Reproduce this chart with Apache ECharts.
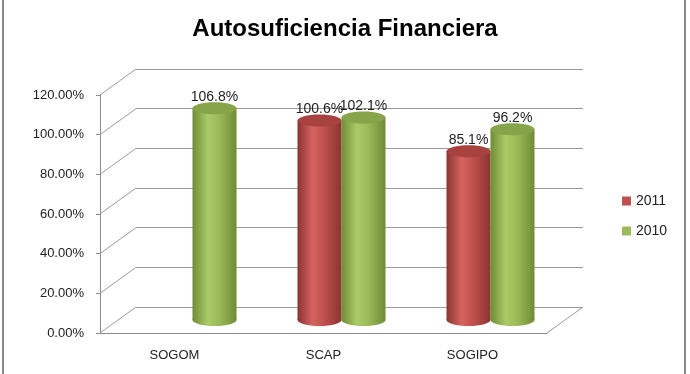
<!DOCTYPE html>
<html lang="es">
<head>
    <meta charset="utf-8"/>
    <title>Autosuficiencia Financiera</title>
    <script src="https://cdn.jsdelivr.net/npm/echarts@6/dist/echarts.min.js"></script>
    <style>
        html, body { margin: 0; padding: 0; background: #fff; }
        #main { width: 690px; height: 374px; }
    </style>
</head>
<body>
<div id="main"></div>
<script>
    // datos
    var categorias = ['SOGOM', 'SCAP', 'SOGIPO'];
    var anios = ['2011', '2010'];
    var valores2011 = [null, 100.6, 85.1];
    var valores2010 = [106.8, 102.1, 96.2];
    var ticksY = [0, 20, 40, 60, 80, 100, 120];

    // "3D": pared trasera desplazada respecto del eje frontal
    var front = {left: 100, top: 95, width: 447, height: 238};
    var depthX = 36, depthY = -26;
    var anchoBarra = 44;

    var colores = {
        '2011': {base: '#C0504D', dark: '#8a3431', light: '#d66461', top: '#a8423f'},
        '2010': {base: '#9BBB59', dark: '#6f8c35', light: '#aacb68', top: '#86a449'}
    };

    function cilindro(anio, idx) {
        var c = colores[anio];
        return function (params, api) {
            var v = api.value(1);
            if (v == null || isNaN(v)) return;
            var base = api.coord([api.value(0), 0]);
            var tope = api.coord([api.value(0), v]);
            var cx = base[0] + (idx === 0 ? -anchoBarra / 2 : anchoBarra / 2);
            var x = cx - anchoBarra / 2;
            var ry = 6;
            var grad = new echarts.graphic.LinearGradient(0, 0, 1, 0, [
                {offset: 0, color: c.dark},
                {offset: 0.35, color: c.light},
                {offset: 0.6, color: c.base},
                {offset: 1, color: c.dark}
            ]);
            return {
                type: 'group',
                children: [
                    {type: 'ellipse', shape: {cx: cx, cy: base[1], rx: anchoBarra / 2, ry: ry}, style: {fill: grad}},
                    {type: 'rect', shape: {x: x, y: tope[1], width: anchoBarra, height: base[1] - tope[1]}, style: {fill: grad}},
                    {type: 'ellipse', shape: {cx: cx, cy: tope[1], rx: anchoBarra / 2, ry: ry}, style: {fill: c.top}},
                    {
                        type: 'text',
                        style: {
                            x: cx, y: tope[1] - 11,
                            text: v.toFixed(1) + '%',
                            align: 'center', verticalAlign: 'middle',
                            fill: '#222', font: '14px "Liberation Sans", sans-serif'
                        }
                    }
                ]
            };
        };
    }

    function pares(arr) {
        return arr.map(function (v, i) { return [i, v]; });
    }

    var chart = echarts.init(document.getElementById('main'));
    var option = {
        animation: false,
        title: {
            text: 'Autosuficiencia Financiera',
            left: 'center',
            top: 12,
            textStyle: {fontFamily: 'Liberation Sans', fontWeight: 'bold', fontSize: 24, color: '#000'}
        },
        legend: {
            data: anios,
            orient: 'vertical',
            left: 617,
            top: 189,
            icon: 'rect',
            itemWidth: 9,
            itemHeight: 9,
            itemGap: 16,
            textStyle: {fontFamily: 'Liberation Sans', fontSize: 14, color: '#222'}
        },
        graphic: [{
            type: 'rect',
            shape: {x: 3, y: -5, width: 682, height: 390},
            style: {fill: 'none', stroke: '#888', lineWidth: 2},
            silent: true
        }],
        grid: [
            // eje frontal
            {left: front.left, top: front.top, width: front.width, height: front.height},
            // pared trasera
            {left: front.left + depthX, top: front.top + depthY, width: front.width, height: front.height},
            // plano medio donde estan los cilindros
            {left: front.left + depthX / 2, top: front.top + depthY / 2, width: front.width, height: front.height}
        ],
        xAxis: [
            {
                gridIndex: 0, type: 'category', data: categorias,
                axisLine: {lineStyle: {color: '#8c8c8c'}},
                axisTick: {show: false},
                axisLabel: {margin: 16, fontFamily: 'Liberation Sans', fontSize: 13, color: '#222'}
            },
            {gridIndex: 1, type: 'category', data: categorias, show: false},
            {gridIndex: 2, type: 'category', data: categorias, show: false}
        ],
        yAxis: [
            {
                gridIndex: 0, type: 'value', min: 0, max: 120, interval: 20,
                axisLine: {show: true, lineStyle: {color: '#8c8c8c'}},
                axisTick: {show: true, length: 4, lineStyle: {color: '#8c8c8c'}},
                splitLine: {show: false},
                axisLabel: {
                    margin: 16,
                    fontFamily: 'Liberation Sans', fontSize: 13, color: '#222',
                    formatter: function (v) { return v.toFixed(2) + '%'; }
                }
            },
            {
                gridIndex: 1, type: 'value', min: 0, max: 120, interval: 20,
                axisLine: {show: false}, axisTick: {show: false}, axisLabel: {show: false},
                splitLine: {show: true, lineStyle: {color: '#9a9a9a', width: 1}}
            },
            {gridIndex: 2, type: 'value', min: 0, max: 120, interval: 20, show: false, splitLine: {show: false}}
        ],
        series: [
            {
                // diagonales de profundidad
                type: 'custom',
                xAxisIndex: 0, yAxisIndex: 0,
                silent: true,
                data: ticksY.map(function (v) { return [0, v]; }),
                renderItem: function (params, api) {
                    var cs = params.coordSys;
                    var y = api.coord([0, api.value(1)])[1];
                    var estilo = {stroke: '#9a9a9a', lineWidth: 1};
                    var hijos = [{
                        type: 'line',
                        shape: {x1: cs.x, y1: y, x2: cs.x + depthX, y2: y + depthY},
                        style: estilo
                    }];
                    if (api.value(1) === 0) {
                        hijos.push({
                            type: 'line',
                            shape: {x1: cs.x + cs.width, y1: y, x2: cs.x + cs.width + depthX, y2: y + depthY},
                            style: estilo
                        });
                    }
                    return {type: 'group', children: hijos};
                }
            },
            {
                name: '2011', type: 'custom',
                xAxisIndex: 2, yAxisIndex: 2,
                itemStyle: {color: colores['2011'].base},
                data: pares(valores2011),
                renderItem: cilindro('2011', 0)
            },
            {
                name: '2010', type: 'custom',
                xAxisIndex: 2, yAxisIndex: 2,
                itemStyle: {color: colores['2010'].base},
                data: pares(valores2010),
                renderItem: cilindro('2010', 1)
            }
        ]
    };
    chart.setOption(option);
</script>
</body>
</html>
